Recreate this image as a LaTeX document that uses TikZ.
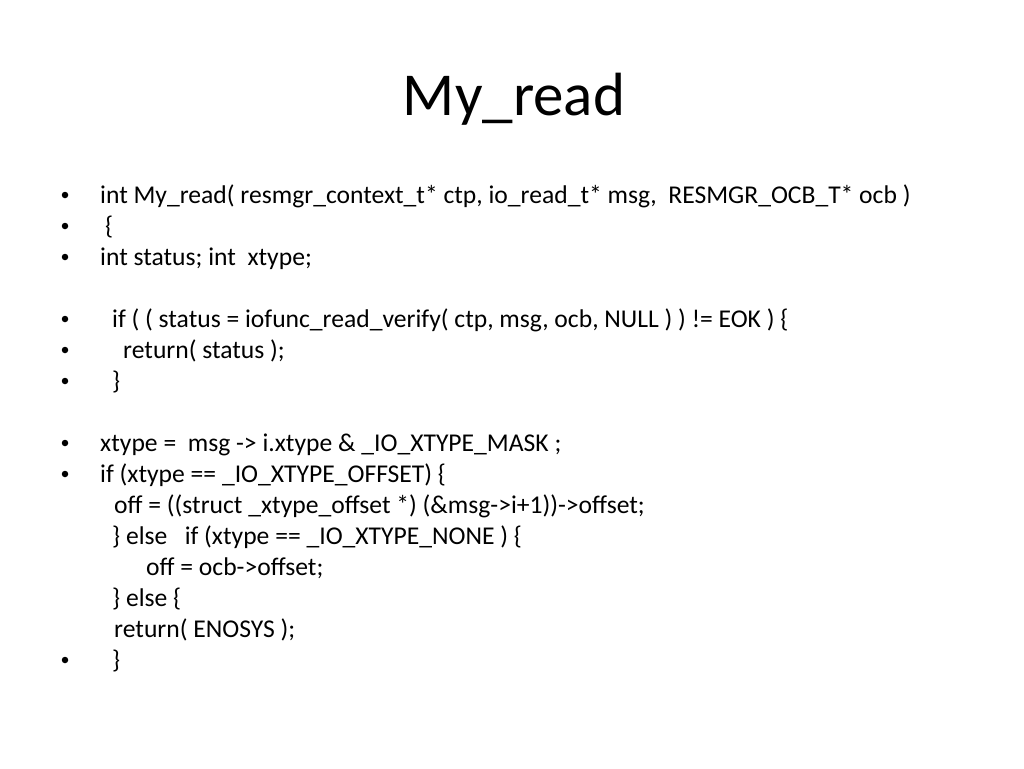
\documentclass[tikz,border=0pt]{standalone}
\usepackage{fontspec}
\setmainfont{Carlito}
\usepackage{tikz}
\usetikzlibrary{positioning}

\tikzset{
  codeline/.style={anchor=base west, inner sep=0pt, font=\fontsize{25.6}{31}\selectfont},
  bulletdot/.style={circle, fill=black, inner sep=0pt, minimum size=6.5pt},
  slidetitle/.style={anchor=base, inner sep=0pt, font=\fontsize{61}{73}\selectfont}
}

\begin{document}
\begin{tikzpicture}[x=1pt,y=-1pt]
\useasboundingbox[fill=white] (0,0) rectangle (1024,768);
% Title
\node[slidetitle] (title) at (514,115) {My\_read};
% Bullets
\foreach \y/\n in {195/1,226/2,257/3,319/4,350/5,381/6,443/7,474/8,660/9}{
\node[bulletdot] (dot\n) at (65,\y) {};
}
% Code lines
\node[codeline] (sig) at (100,203) {int My\_read( resmgr\_context\_t* ctp, io\_read\_t* msg,\ \ RESMGR\_OCB\_T* ocb )};
\node[codeline] (open) at (105,234) {\{};
\node[codeline] (decl) at (100,265) {int status; int\ \ xtype;};
\node[codeline] (ifverify) at (112,327) {if ( ( status = iofunc\_read\_verify( ctp, msg, ocb, NULL ) ) != EOK ) \{};
\node[codeline] (retstatus) at (123,358) {return( status );};
\node[codeline] (close1) at (112,389) {\}};
\node[codeline] (mask) at (100,451) {xtype =\ \ msg -> i.xtype \& \_IO\_XTYPE\_MASK ;};
\node[codeline] (ifoffset) at (100,482) {if (xtype == \_IO\_XTYPE\_OFFSET) \{};
\node[codeline] (offstruct) at (114,513) {off = ((struct \_xtype\_offset *) (\&msg->i+1))->offset;};
\node[codeline] (elseif) at (112,544) {\} else\ \ \ if (xtype == \_IO\_XTYPE\_NONE ) \{};
\node[codeline] (offocb) at (146,575) {off = ocb->offset;};
\node[codeline] (else) at (112,606) {\} else \{};
\node[codeline] (retenosys) at (114,637) {return( ENOSYS );};
\node[codeline] (close2) at (112,668) {\}};
\end{tikzpicture}
\end{document}
